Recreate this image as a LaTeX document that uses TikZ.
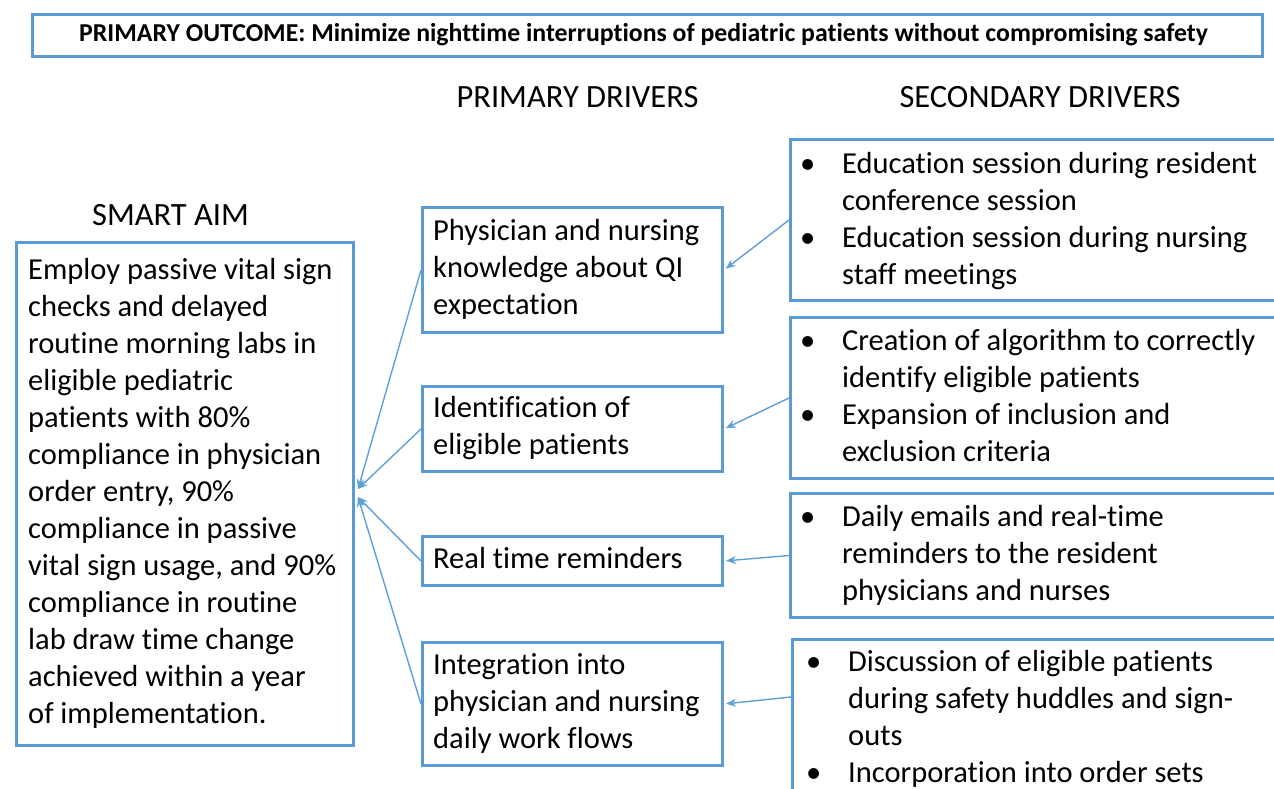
\documentclass[tikz,border=0pt]{standalone}
\usepackage{fontspec}
\setmainfont{Carlito}[Ligatures=NoCommon]
\usetikzlibrary{arrows.meta,calc}
\definecolor{bblue}{RGB}{91,155,213}
\definecolor{ablue}{RGB}{95,160,218}
\newcommand\bul{\makebox[42pt][l]{\textbullet}}
\newcommand\ind{\hspace*{42pt}}
\begin{document}
\begin{tikzpicture}[x=1pt,y=-1pt,
  frame/.style={draw=bblue, line width=3pt, inner sep=0pt, anchor=north west},
  body/.style={font=\fontsize{30.5}{37}\selectfont, align=left, inner sep=0pt, anchor=west},
  head/.style={font=\fontsize{32.5}{39}\selectfont, inner sep=0pt, anchor=base},
  link/.style={draw=ablue, line width=1.4pt, -{Stealth[length=10pt,width=8pt]}}]
\useasboundingbox (0,0) rectangle (1274,789);
\clip (0,0) rectangle (1274,789);
\fill[white] (0,0) rectangle (1274,789);

% frames
\node[frame, minimum width=1230pt, minimum height=42pt] (title) at (31,13) {};
\node[frame, minimum width=337pt, minimum height=503pt] (smart) at (15,241) {};
\node[frame, minimum width=300pt, minimum height=125pt] (p1) at (421,206) {};
\node[frame, minimum width=300pt, minimum height=85pt] (p2) at (421,385) {};
\node[frame, minimum width=300pt, minimum height=49pt] (p3) at (421,535) {};
\node[frame, minimum width=300pt, minimum height=123pt] (p4) at (421,641) {};
\node[frame, minimum width=520pt, minimum height=161pt] (s1) at (789,138) {};
\node[frame, minimum width=520pt, minimum height=161pt] (s2) at (789,316) {};
\node[frame, minimum width=520pt, minimum height=124pt] (s3) at (789,492) {};
\node[frame, minimum width=520pt, minimum height=165pt] (s4) at (791,638) {};

% headings
\node[font=\bfseries\fontsize{25.8}{30}\selectfont, inner sep=0pt, anchor=base] (ttltext) at (643.5,41.5)
  {PRIMARY OUTCOME: Minimize nighttime interruptions of pediatric patients without compromising safety};
\node[head] (hpd) at (577.5,108) {PRIMARY DRIVERS};
\node[head] (hsd) at (1040,108) {SECONDARY DRIVERS};
\node[head] (hsa) at (170.5,225) {SMART AIM};

% texts
\node[body] (tsmart) at ($(smart.west)+(13,0)$) {\strut Employ passive vital sign\\
checks and delayed\\
routine morning labs in\\
eligible pediatric\\
patients with 80\%\\
compliance in physician\\
order entry, 90\%\\
compliance in passive\\
vital sign usage, and 90\%\\
compliance in routine\\
lab draw time change\\
achieved within a year\\
of implementation.\strut};
\node[body] (tp1) at ($(p1.west)+(12,0)$) {\strut Physician and nursing\\ knowledge about QI\\ expectation\strut};
\node[body] (tp2) at ($(p2.west)+(12,0)$) {\strut Identification of\\ eligible patients\strut};
\node[body] (tp3) at ($(p3.west)+(12,0)$) {\strut Real time reminders\strut};
\node[body] (tp4) at ($(p4.west)+(12,0)$) {\strut Integration into\\ physician and nursing\\ daily work flows\strut};
\node[body] (ts1) at ($(s1.west)+(11,2)$) {\strut\bul Education session during resident\\
\ind conference session\\
\bul Education session during nursing\\
\ind staff meetings\strut};
\node[body] (ts2) at ($(s2.west)+(11,1)$) {\strut\bul Creation of algorithm to correctly\\
\ind identify eligible patients\\
\bul Expansion of inclusion and\\
\ind exclusion criteria\strut};
\node[body] (ts3) at ($(s3.west)+(11,1)$) {\strut\bul Daily emails and real-time\\
\ind reminders to the resident\\
\ind physicians and nurses\strut};
\node[body] (ts4) at (806,720) {\strut\bul Discussion of eligible patients\\
\ind during safety huddles and sign-\\
\ind outs\\
\bul Incorporation into order sets\strut};

% connectors
\coordinate (aimA) at ($(smart.east)+(3,-5)$);
\coordinate (aimB) at ($(smart.east)+(3,3)$);
\coordinate (s4in) at ($(s4.north west)+(0,59)$);
\draw[link] (p1.west) -- (aimA);
\draw[link] (p2.west) -- (aimA);
\draw[link] (p3.west) -- (aimB);
\draw[link] (p4.west) -- (aimB);
\draw[link, shorten >=2pt] (s1.west) -- (p1.east);
\draw[link, shorten >=2pt] (s2.west) -- (p2.east);
\draw[link, shorten >=2pt] (s3.west) -- (p3.east);
\draw[link, shorten >=2pt] (s4in) -- (p4.east);
\end{tikzpicture}
\end{document}
